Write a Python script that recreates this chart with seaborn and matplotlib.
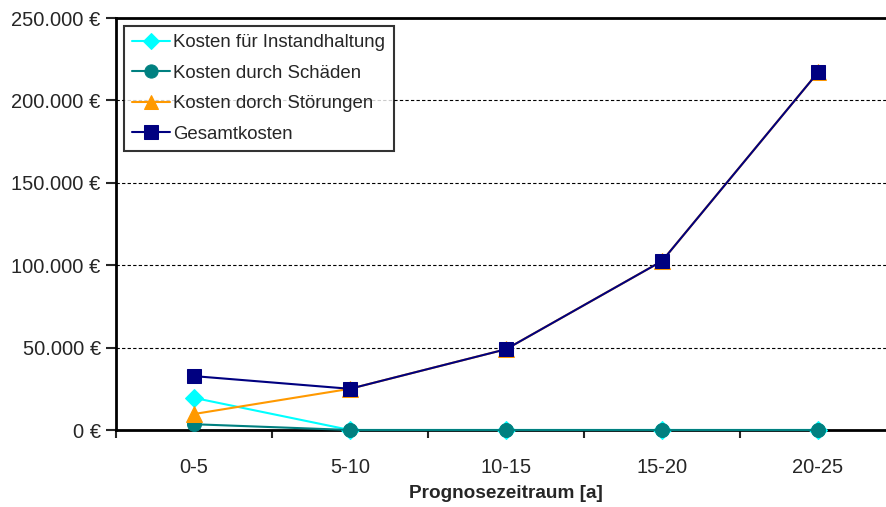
import numpy as np
import pandas as pd
import matplotlib.pyplot as plt
import seaborn as sns
from matplotlib.ticker import FixedLocator, FuncFormatter

# Daten
zeitraum = ['0-5', '5-10', '10-15', '15-20', '20-25']
instandhaltung = [19500, 0, 0, 0, 0]
schaeden = [3500, 0, 0, 0, 0]
stoerungen = [9700, 25000, 49000, 102500, 217000]
gesamt = [32700, 25000, 49000, 102500, 217000]

serien = ['Kosten für Instandhaltung', 'Kosten durch Schäden',
          'Kosten dorch Störungen', 'Gesamtkosten']
werte = [instandhaltung, schaeden, stoerungen, gesamt]

rows = []
for name, vals in zip(serien, werte):
    for i, v in enumerate(vals):
        rows.append({'pos': i, 'Zeitraum': zeitraum[i], 'Serie': name, 'Kosten': v})
df = pd.DataFrame(rows)

sns.set_style('white')
plt.rcParams['font.family'] = ['Liberation Sans', 'DejaVu Sans']

farben = {'Kosten für Instandhaltung': '#00FFFF',
          'Kosten durch Schäden': '#008080',
          'Kosten dorch Störungen': '#FF9900',
          'Gesamtkosten': '#000080'}
marker = {'Kosten für Instandhaltung': 'D',
          'Kosten durch Schäden': 'o',
          'Kosten dorch Störungen': '^',
          'Gesamtkosten': 's'}
groesse = {'Kosten für Instandhaltung': 9,
           'Kosten durch Schäden': 10,
           'Kosten dorch Störungen': 11,
           'Gesamtkosten': 10}

fig = plt.figure(figsize=(8.86, 5.07), dpi=100)
ax = fig.add_axes([116 / 886, 1 - 430 / 507, 780 / 886, 412 / 507])

for name in serien:
    sub = df[df['Serie'] == name]
    sns.lineplot(data=sub, x='pos', y='Kosten', ax=ax, color=farben[name],
                 marker=marker[name], markersize=groesse[name],
                 markeredgecolor=farben[name], markerfacecolor=farben[name],
                 linewidth=1.5, label=name, zorder=3, clip_on=False)

ax.set_xlim(-0.5, len(zeitraum) - 0.5)
ax.set_ylim(0, 250000)

ax.set_yticks(np.arange(0, 250001, 50000))
ax.yaxis.set_major_formatter(FuncFormatter(lambda v, p: f'{int(v):,}'.replace(',', '.') + ' €'))
ax.set_xticks(range(len(zeitraum)))
ax.set_xticklabels(zeitraum)
ax.xaxis.set_minor_locator(FixedLocator(np.arange(-0.5, len(zeitraum), 1)))

ax.tick_params(axis='x', which='major', length=0, pad=20, labelsize=14.5)
ax.tick_params(axis='x', which='minor', length=6, width=1.5, direction='out', bottom=True)
ax.tick_params(axis='y', which='major', length=7, width=1.5, direction='out', left=True, labelsize=14.5, pad=4)

ax.grid(axis='y', color='black', linestyle=(0, (3, 2)), linewidth=0.8)
for s in ['left', 'bottom', 'top']:
    ax.spines[s].set_color('black')
    ax.spines[s].set_linewidth(2)
ax.spines['right'].set_visible(False)

ax.set_xlabel('Prognosezeitraum [a]', fontsize=13.7, fontweight='bold', labelpad=6)
ax.set_ylabel('')

leg = ax.legend(loc='upper left', bbox_to_anchor=(8 / 780, 1 - 8 / 412), fontsize=13.4,
                frameon=True, fancybox=False, edgecolor='black', handlelength=2.0,
                handletextpad=0.2, borderpad=0.45, labelspacing=0.72, borderaxespad=0,
                markerscale=0.95)
leg.get_frame().set_linewidth(1.5)
leg.set_zorder(5)

fig.savefig('out.png', dpi=100)
